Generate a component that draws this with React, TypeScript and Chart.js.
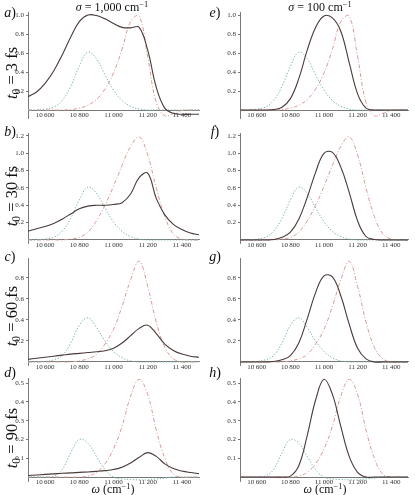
import React, { useEffect, useRef } from 'react';
import { Chart, registerables } from 'chart.js';
Chart.register(...registerables);

// ---------- data ----------
const omega = [10500, 10550, 10600, 10650, 10700, 10750, 10800, 10850, 10900, 10950, 11000, 11050, 11100, 11150, 11200, 11250, 11300, 11350, 11400, 11450, 11500];
const xTicks = [10600, 10800, 11000, 11200, 11400];

// reference curves (same in both columns of a row)
const green3 = [0, 0, 0.01, 0.03, 0.10, 0.25, 0.46, 0.61, 0.54, 0.37, 0.21, 0.10, 0.04, 0.01, 0, 0, 0, 0, 0, 0, 0];
const red3 = [0, 0, 0, 0, 0, 0.005, 0.02, 0.05, 0.11, 0.22, 0.39, 0.64, 0.93, 0.99, 0.56, 0.08, -0.06, -0.035, -0.005, 0, 0];
const green30 = [0, 0, 0.01, 0.03, 0.10, 0.25, 0.46, 0.61, 0.54, 0.37, 0.21, 0.10, 0.04, 0.01, 0, 0, 0, 0, 0, 0, 0];
const red30 = [0, 0, 0, 0, 0, 0.01, 0.03, 0.09, 0.22, 0.40, 0.62, 0.86, 1.08, 1.19, 0.98, 0.60, 0.27, 0.07, 0.01, 0, 0];
const green60 = [0, 0, 0.005, 0.02, 0.06, 0.18, 0.35, 0.42, 0.33, 0.20, 0.10, 0.04, 0.01, 0, 0, 0, 0, 0, 0, 0, 0];
const red60 = [0, 0, 0, 0, 0, 0, 0.01, 0.03, 0.07, 0.17, 0.31, 0.53, 0.78, 0.96, 0.72, 0.38, 0.14, 0.03, 0, 0, 0];
const green90 = [0, 0, 0, 0.005, 0.04, 0.13, 0.20, 0.18, 0.11, 0.04, 0.0, -0.01, -0.013, -0.015, -0.015, -0.01, -0.005, 0, 0, 0, 0];
const red90 = [0, 0, 0, 0, 0, 0, 0, 0.005, 0.025, 0.07, 0.15, 0.27, 0.43, 0.52, 0.44, 0.25, 0.10, 0.015, 0, 0, 0];

// sigma = 1,000 cm^-1 (left column)
const solidA = [0.14, 0.19, 0.28, 0.41, 0.58, 0.77, 0.93, 1.0, 0.995, 0.96, 0.91, 0.87, 0.865, 0.87, 0.63, 0.24, 0.02, -0.035, -0.045, -0.045, -0.045];
const solidB = [0.10, 0.13, 0.155, 0.19, 0.24, 0.30, 0.36, 0.39, 0.40, 0.40, 0.41, 0.43, 0.53, 0.72, 0.77, 0.48, 0.29, 0.18, 0.12, 0.08, 0.06];
const solidC = [0.025, 0.035, 0.045, 0.055, 0.065, 0.075, 0.082, 0.09, 0.097, 0.107, 0.13, 0.18, 0.25, 0.32, 0.35, 0.27, 0.17, 0.11, 0.075, 0.055, 0.045];
const solidD = [0.008, 0.011, 0.014, 0.017, 0.02, 0.022, 0.025, 0.027, 0.03, 0.034, 0.04, 0.052, 0.075, 0.105, 0.13, 0.11, 0.07, 0.045, 0.032, 0.024, 0.018];
// sigma = 100 cm^-1 (right column)
const solidE = [0, 0, 0, 0, 0.005, 0.03, 0.12, 0.33, 0.63, 0.87, 0.99, 0.97, 0.83, 0.50, 0.17, 0.02, 0, 0, 0, 0, 0];
const solidF = [0, 0, 0, 0, 0.005, 0.03, 0.09, 0.24, 0.49, 0.78, 1.0, 1.01, 0.84, 0.55, 0.22, 0.04, 0.005, 0, 0, 0, 0];
const solidG = [0, 0, 0, 0, 0.005, 0.02, 0.06, 0.18, 0.41, 0.66, 0.82, 0.81, 0.63, 0.36, 0.13, 0.03, 0, 0, 0, 0, 0];
const solidH = [0, 0, 0, 0, 0, 0, 0.005, 0.06, 0.22, 0.41, 0.52, 0.44, 0.27, 0.11, 0.025, 0, 0, 0, 0, 0, 0];

const yTicks1 = [0.2, 0.4, 0.6, 0.8, 1.0];
const yTicks2 = [0.2, 0.4, 0.6, 0.8, 1.0, 1.2];
const yTicks3 = [0.2, 0.4, 0.6, 0.8];
const yTicks4 = [0.1, 0.2, 0.3, 0.4, 0.5];

const delays = ['3', '30', '60', '90'];
const letters = [['a', 'b', 'c', 'd'], ['e', 'f', 'g', 'h']];
const sigmas = ['1,000', '100'];

// ---------- layout / style ----------
const SERIF = "'Liberation Serif', 'DejaVu Serif', serif";
const SOLID = '#4a3a3a';
const GREEN = '#78b4aa';
const RED = '#d99a92';
const AXIS = '#555555';
const TICK_TEXT = '#333333';

const cols = [
  { left: 0, width: 206, yWidth: 28, padRight: 7 },
  { left: 206, width: 209, yWidth: 34, padRight: 7 },
];
const rows = [
  { areaTop: 12, areaBottom: 118, min: -0.084, max: 1.032, ticks: yTicks1, green: green3, red: red3, solids: [solidA, solidE] },
  { areaTop: 133, areaBottom: 243, min: -0.035, max: 1.234, ticks: yTicks2, green: green30, red: red30, solids: [solidB, solidF] },
  { areaTop: 258, areaBottom: 365, min: -0.029, max: 0.99, ticks: yTicks3, green: green60, red: red60, solids: [solidC, solidG] },
  { areaTop: 378, areaBottom: 481, min: -0.021, max: 0.527, ticks: yTicks4, green: green90, red: red90, solids: [solidD, solidH] },
];

const toXY = (vals: number[]) => vals.map((v, i) => ({ x: omega[i], y: v }));
const fmtX = (v: number) => {
  const s = String(Math.round(v));
  return s.slice(0, s.length - 3) + '\u2009' + s.slice(-3);
};

type PanelProps = {
  left: number; top: number; width: number; height: number;
  yWidth: number; padRight: number;
  min: number; max: number; ticks: number[];
  solid: number[]; green: number[]; red: number[];
};

function Panel(p: PanelProps) {
  const ref = useRef<HTMLCanvasElement | null>(null);
  useEffect(() => {
    if (!ref.current) return;
    const tickFont = { family: SERIF, size: 7 };
    const chart = new Chart(ref.current, {
      type: 'line',
      data: {
        datasets: [
          { data: toXY(p.solid), borderColor: SOLID, borderWidth: 1.1 },
          { data: toXY(p.green), borderColor: GREEN, borderWidth: 1, borderDash: [1.3, 1.7] },
          { data: toXY(p.red), borderColor: RED, borderWidth: 1, borderDash: [4, 2, 1, 2] },
        ],
      },
      options: {
        responsive: false,
        animation: false,
        devicePixelRatio: 1,
        layout: { padding: { left: 0, right: p.padRight, top: 10, bottom: 10 } },
        plugins: { legend: { display: false }, tooltip: { enabled: false }, title: { display: false } },
        elements: { point: { radius: 0 }, line: { tension: 0.4, fill: false } },
        scales: {
          x: {
            type: 'linear',
            min: 10500,
            max: 11500,
            position: { y: 0 } as any,
            afterBuildTicks: (s: any) => { s.ticks = xTicks.map((v) => ({ value: v })); },
            ticks: { callback: (v: any) => fmtX(Number(v)), font: tickFont, color: TICK_TEXT, padding: 1, maxRotation: 0, autoSkip: false },
            grid: { drawOnChartArea: false, drawTicks: false, color: AXIS, lineWidth: 0.8 },
            border: { display: true, color: AXIS, width: 0.8 },
          },
          y: {
            type: 'linear',
            min: p.min,
            max: p.max,
            afterFit: (s: any) => { s.width = p.yWidth; },
            afterBuildTicks: (s: any) => { s.ticks = p.ticks.map((v) => ({ value: v })); },
            ticks: { callback: (v: any) => Number(v).toFixed(1), font: tickFont, color: TICK_TEXT, padding: 2, autoSkip: false },
            grid: { drawOnChartArea: false, drawTicks: true, tickLength: 2, color: AXIS, lineWidth: 0.8 },
            border: { display: true, color: AXIS, width: 0.8 },
          },
        },
      } as any,
    });
    return () => chart.destroy();
  }, []);
  return (
    <canvas
      ref={ref}
      width={p.width}
      height={p.height}
      style={{ position: 'absolute', left: p.left, top: p.top, width: p.width, height: p.height }}
    />
  );
}

function Label({ x, y, size, children, rotate }: { x: number; y: number; size: number; children: React.ReactNode; rotate?: boolean }) {
  return (
    <div
      style={{
        position: 'absolute', left: x, top: y, fontFamily: SERIF, fontSize: size, lineHeight: 1,
        whiteSpace: 'nowrap', color: '#111',
        transform: `translate(-50%, -50%)${rotate ? ' rotate(-90deg)' : ''}`,
      }}
    >
      {children}
    </div>
  );
}

const supStyle: React.CSSProperties = { fontSize: '0.7em', verticalAlign: '0.45em', lineHeight: 0 };
const subStyle: React.CSSProperties = { fontSize: '0.7em', verticalAlign: '-0.25em', lineHeight: 0 };

const titleX = [112, 320];
const rowLabelY = [73, 196, 316, 438];
const letterY = [13, 132, 257, 373];
const letterX = [10, 215];
const omegaX = [113, 325];

export default function App() {
  return (
    <div style={{ position: 'absolute', left: 0, top: 0, width: 415, height: 495, background: '#fff', overflow: 'hidden' }}>
      {cols.map((c, ci) =>
        rows.map((r, ri) => (
          <Panel
            key={`${ci}-${ri}`}
            left={c.left}
            top={r.areaTop - 10}
            width={c.width}
            height={r.areaBottom - r.areaTop + 20}
            yWidth={c.yWidth}
            padRight={c.padRight}
            min={r.min}
            max={r.max}
            ticks={r.ticks}
            solid={r.solids[ci]}
            green={r.green}
            red={r.red}
          />
        ))
      )}
      {sigmas.map((s, i) => (
        <Label key={'t' + i} x={titleX[i]} y={7} size={12}>
          <i>σ</i> = {s} cm<span style={supStyle}>−1</span>
        </Label>
      ))}
      {delays.map((d, i) => (
        <Label key={'r' + i} x={12} y={rowLabelY[i]} size={16.5} rotate>
          <i>t</i><span style={subStyle}>0</span> = {d} fs
        </Label>
      ))}
      {letters.map((col, ci) =>
        col.map((l, ri) => (
          <Label key={'l' + ci + ri} x={letterX[ci]} y={letterY[ri]} size={14}>
            <i>{l}</i>)
          </Label>
        ))
      )}
      {omegaX.map((x, i) => (
        <Label key={'o' + i} x={x} y={489} size={12}>
          <i>ω</i> (cm<span style={supStyle}>−1</span>)
        </Label>
      ))}
    </div>
  );
}
